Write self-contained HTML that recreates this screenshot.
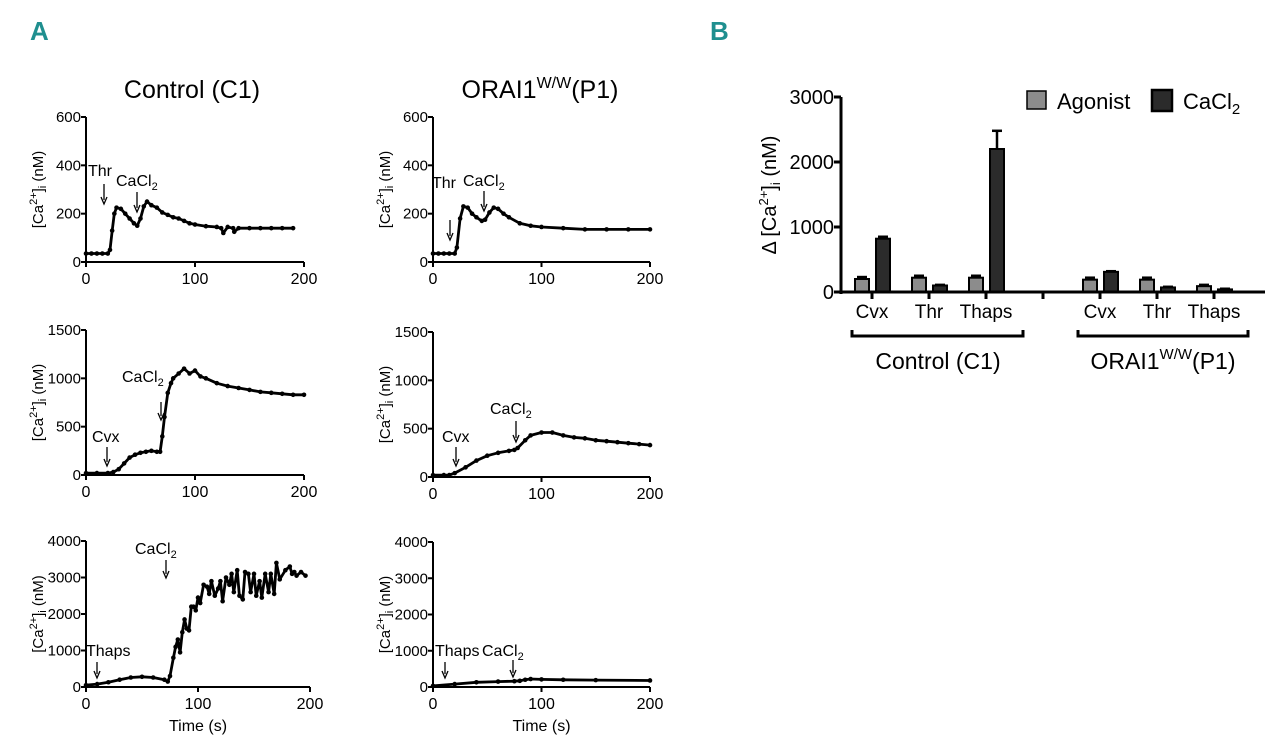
<!DOCTYPE html>
<html><head><meta charset="utf-8"><style>
html,body{margin:0;padding:0;background:#fff;}
svg{display:block;font-family:"Liberation Sans",Arial,sans-serif;}
</style></head><body>
<svg id="fig" width="1280" height="742" viewBox="0 0 1280 742">
<text x="30" y="40" font-size="26" font-weight="bold" fill="#1f8f8f" font-family="Liberation Sans Narrow,Liberation Sans,sans-serif">A</text>
<text x="710" y="40" font-size="26" font-weight="bold" fill="#1f8f8f" font-family="Liberation Sans Narrow,Liberation Sans,sans-serif">B</text>
<text x="192" y="98" font-size="25" text-anchor="middle">Control (C1)</text>
<text x="540" y="98" font-size="25" text-anchor="middle">ORAI1<tspan font-size="16" dy="-10">W/W</tspan><tspan dy="10">(P1)</tspan></text>
</svg>
<script>
// ---- trace data (time s, [Ca2+]i nM) ----
const t1=[0,5,10,15,20,22,24,26,28,32,36,40,44,47,50,53,56,60,65,70,75,80,85,90,95,100,110,120,124,126,130,135,136,140,150,160,170,180,190];
const v1=[35,35,35,35,35,50,130,200,225,220,200,180,160,150,180,230,250,235,225,205,195,185,180,170,160,155,148,145,140,120,145,140,125,140,140,140,140,140,140];
const t2=[0,5,10,15,20,22,25,28,32,36,40,45,48,52,56,60,65,70,80,90,100,120,140,160,180,200];
const v2=[35,35,35,35,35,60,180,230,225,200,185,170,175,205,225,220,200,185,160,150,145,140,135,135,135,135];
const t3=[0,10,20,25,30,35,40,45,50,55,60,65,68,70,72,75,78,80,85,90,95,100,105,110,120,130,140,150,160,170,180,190,200];
const v3=[20,20,20,30,60,120,180,210,230,240,250,240,240,400,600,850,950,1000,1050,1100,1050,1080,1020,1000,950,920,900,880,860,850,840,830,830];
const t4=[0,10,15,20,30,40,50,60,70,75,78,85,90,100,110,120,130,140,150,160,170,180,190,200];
const v4=[20,20,20,40,100,170,220,250,270,280,300,380,430,460,460,430,410,400,380,370,360,350,340,330];
const t5=[0,10,20,30,40,50,60,70,73,75,78,80,82,84,86,88,90,92,94,96,98,100,102,105,108,110,112,115,118,120,122,125,128,130,132,135,137,140,142,145,147,150,152,155,157,160,163,165,168,170,173,178,182,184,186,188,192,196];
const v5=[50,80,130,200,260,280,260,200,150,300,800,1100,1300,950,1500,1850,1600,1550,2200,2200,2100,2450,2300,2800,2750,2550,2900,2500,2700,2900,2350,3000,2800,3100,2600,3200,2500,2400,3150,3100,2600,3100,2500,2900,2450,3100,2600,3100,2550,3400,2950,3200,3300,3100,3150,3050,3150,3050];
const t6=[0,20,40,60,75,80,85,90,100,120,150,200];
const v6=[30,80,130,150,160,170,200,220,210,200,190,180];
// ---- bar chart data ----
const categories=["Cvx","Thr","Thaps","Cvx","Thr","Thaps"];
const agonistVals=[200,220,220,190,190,90];
const agonistErr=[30,30,30,30,30,20];
const cacl2Vals=[820,100,2200,310,70,40];
const cacl2Err=[30,10,280,10,10,10];
const barTicks=[0,1000,2000,3000];

const NS="http://www.w3.org/2000/svg";
const svg=document.getElementById('fig');
function el(tag,attrs,parent){const e=document.createElementNS(NS,tag);for(const k in attrs)e.setAttribute(k,attrs[k]);(parent||svg).appendChild(e);return e;}
function txt(x,y,s,size,anchor,parent){const e=el('text',{x:x,y:y,'font-size':size,'text-anchor':anchor||'middle'},parent);e.textContent=s;return e;}

const panels=[
 {id:'control-thr',x0:86,x1:304,y0:262,yT:117,ymax:600,yt:[0,200,400,600],t:t1,v:v1,time:false,
  ann:[['Thr',88,176,104,184,204],['CaCl',116,186,137,192,212]]},
 {id:'orai1-thr',x0:433,x1:650,y0:262,yT:117,ymax:600,yt:[0,200,400,600],t:t2,v:v2,time:false,
  ann:[['Thr',432,188,450,220,240],['CaCl',463,186,484,191,211]]},
 {id:'control-cvx',x0:86,x1:304,y0:475,yT:330,ymax:1500,yt:[0,500,1000,1500],t:t3,v:v3,time:false,
  ann:[['CaCl',122,382,161,402,420],['Cvx',92,442,107,447,466]]},
 {id:'orai1-cvx',x0:433,x1:650,y0:477,yT:332,ymax:1500,yt:[0,500,1000,1500],t:t4,v:v4,time:false,
  ann:[['CaCl',490,414,516,421,442],['Cvx',442,442,456,447,466]]},
 {id:'control-thaps',x0:86,x1:310,y0:687,yT:541,ymax:4000,yt:[0,1000,2000,3000,4000],t:t5,v:v5,time:true,
  ann:[['CaCl',135,554,166,560,578],['Thaps',86,656,97,662,678]]},
 {id:'orai1-thaps',x0:433,x1:650,y0:687,yT:542,ymax:4000,yt:[0,1000,2000,3000,4000],t:t6,v:v6,time:true,
  ann:[['Thaps',435,656,445,662,678],['CaCl',482,656,513,660,677]]}
];
panels.forEach(p=>{
 const g=el('g',{});
 
 
 const X=t=>p.x0+(p.x1-p.x0)*t/200, Y=v=>p.y0-(p.y0-p.yT)*v/p.ymax;
 el('line',{x1:p.x0,y1:p.yT,x2:p.x0,y2:p.y0,stroke:'#000','stroke-width':2},g);
 el('line',{x1:p.x0,y1:p.y0,x2:p.x1,y2:p.y0,stroke:'#000','stroke-width':2},g);
 p.yt.forEach(v=>{el('line',{x1:p.x0-5,y1:Y(v),x2:p.x0,y2:Y(v),stroke:'#000','stroke-width':2},g);
   txt(p.x0-5,Y(v)+5,String(v),15,'end',g);});
 [0,100,200].forEach(t=>{el('line',{x1:X(t),y1:p.y0,x2:X(t),y2:p.y0+5,stroke:'#000','stroke-width':2},g);
   txt(X(t),p.y0+22,String(t),16,'middle',g);});
 const cy=(p.y0+p.yT)/2, lx=p.x0-43;
 const yl=el('text',{x:lx,y:cy,'font-size':15,'text-anchor':'middle',transform:`rotate(-90 ${lx} ${cy})`},g);
 yl.innerHTML='[Ca<tspan font-size="11" dy="-6">2+</tspan><tspan dy="6">]</tspan><tspan font-size="11" dy="3">i</tspan><tspan dy="-3"> (nM)</tspan>';
 if(p.time) txt((p.x0+p.x1)/2,p.y0+44,'Time (s)',16,'middle',g);
 const d=p.t.map((t,i)=>(i?'L':'M')+X(t).toFixed(1)+','+Y(p.v[i]).toFixed(1)).join(' ');
 const path=el('path',{d:d,fill:'none',stroke:'#000','stroke-width':2.8,'stroke-linejoin':'round'},g);
 
 
 p.t.forEach((t,i)=>{el('circle',{cx:X(t),cy:Y(p.v[i]),r:2.3,fill:'#000'},g);});
 p.ann.forEach(a=>{
  const tt=el('text',{x:a[1],y:a[2],'font-size':16},g);
  tt.innerHTML=a[0]==='CaCl'?'CaCl<tspan font-size="11" dy="4">2</tspan>':a[0];
  el('line',{x1:a[3],y1:a[4],x2:a[3],y2:a[5]-4,stroke:'#000','stroke-width':1.3},g);
  el('path',{d:`M${a[3]-3},${a[5]-7} L${a[3]},${a[5]} L${a[3]+3},${a[5]-7}`,fill:'none',stroke:'#000','stroke-width':1.3},g);
 });
});

// ---- Bar chart ----
const B={x0:841,x1:1265,y0:292,yT:97,ymax:3000};
const BY=v=>B.y0-(B.y0-B.yT)*v/B.ymax;
const centers=[872,929,986,1100,1157,1214];
const bg=el('g',{});


categories.forEach((c,i)=>{
 const cx=centers[i];
 [[agonistVals,agonistErr,'#8c8c8c',-10],[cacl2Vals,cacl2Err,'#2b2b2b',11]].forEach(s=>{
  const v=s[0][i], e=s[1][i], bx=cx+s[3]-7;
  el('line',{x1:bx+7,y1:BY(v+e),x2:bx+7,y2:BY(v),stroke:'#000','stroke-width':2.5},bg);
  el('line',{x1:bx+2,y1:BY(v+e),x2:bx+12,y2:BY(v+e),stroke:'#000','stroke-width':2.5},bg);
  const r=el('rect',{x:bx,y:BY(v),width:14,height:B.y0-BY(v),fill:s[2],stroke:'#000','stroke-width':2},bg);
  
  
 });
 el('line',{x1:cx,y1:B.y0,x2:cx,y2:B.y0+7,stroke:'#000','stroke-width':3},bg);
 txt(cx,B.y0+26,c,19,'middle',bg);
});
el('line',{x1:1043,y1:B.y0,x2:1043,y2:B.y0+7,stroke:'#000','stroke-width':3},bg);
el('line',{x1:B.x0,y1:B.yT,x2:B.x0,y2:B.y0+2,stroke:'#000','stroke-width':3},bg);
el('line',{x1:B.x0,y1:B.y0,x2:B.x1,y2:B.y0,stroke:'#000','stroke-width':3},bg);
barTicks.forEach(v=>{el('line',{x1:B.x0-7,y1:BY(v),x2:B.x0,y2:BY(v),stroke:'#000','stroke-width':3},bg);
 txt(B.x0-7,BY(v)+7,String(v),20,'end',bg);});
const byl=el('text',{x:776,y:195,'font-size':20,'text-anchor':'middle',transform:'rotate(-90 776 195)'},bg);
byl.innerHTML='Δ [Ca<tspan font-size="13" dy="-8">2+</tspan><tspan dy="8">]</tspan><tspan font-size="13" dy="4">i</tspan><tspan dy="-4"> (nM)</tspan>';
[[852,1023,'Control (C1)',938],[1078,1248,'',1163]].forEach((b,k)=>{
 el('path',{d:`M${b[0]},${330} L${b[0]},${336} L${b[1]},${336} L${b[1]},${330}`,fill:'none',stroke:'#000','stroke-width':3},bg);
 const t=el('text',{x:b[3],y:369,'font-size':23,'text-anchor':'middle'},bg);
 if(k===0)t.textContent=b[2]; else t.innerHTML='ORAI1<tspan font-size="15" dy="-10">W/W</tspan><tspan dy="10">(P1)</tspan>';
});
const lg=el('g',{});


el('rect',{x:1027,y:91,width:19,height:18,fill:'#8c8c8c',stroke:'#000','stroke-width':1.5},lg);
txt(1057,109,'Agonist',22,'start',lg);
el('rect',{x:1152,y:90,width:20,height:21,fill:'#2b2b2b',stroke:'#000','stroke-width':2.5},lg);
const lt=el('text',{x:1183,y:109,'font-size':22},lg);
lt.innerHTML='CaCl<tspan font-size="15" dy="5">2</tspan>';
</script>
</body></html>
